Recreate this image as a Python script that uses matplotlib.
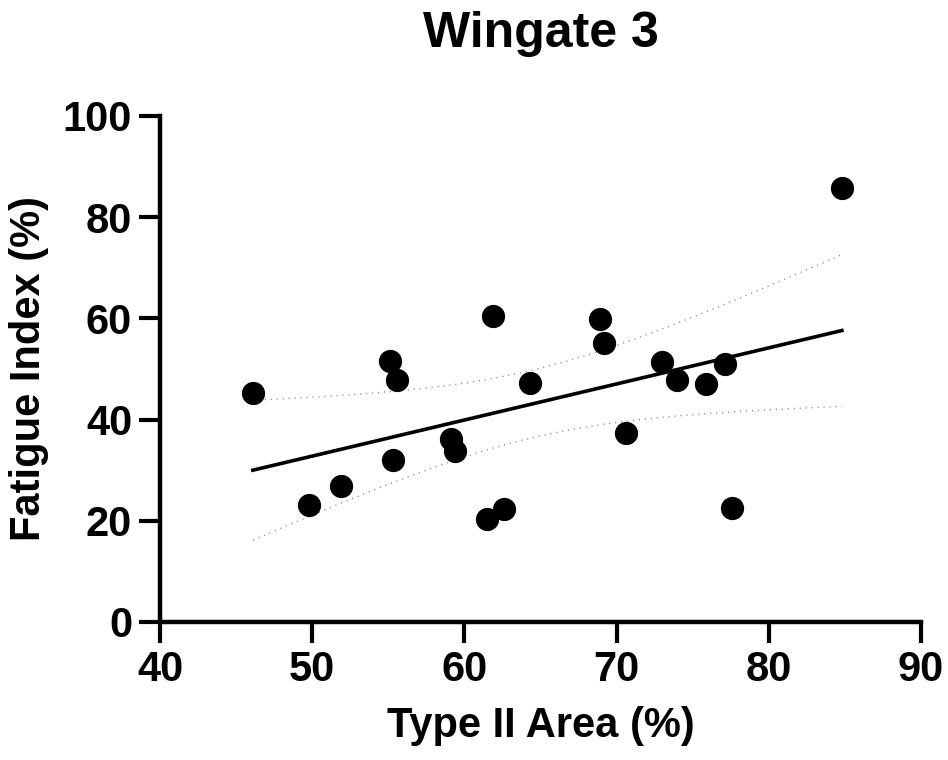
import numpy as np
import matplotlib
matplotlib.use("Agg")
import matplotlib.pyplot as plt

plt.rcParams['font.family'] = ['Liberation Sans', 'DejaVu Sans']
plt.rcParams['font.weight'] = 'bold'

# Type II area (%) vs fatigue index (%)
type2_area = [46.1, 49.8, 51.9, 55.1, 55.6, 55.3, 59.1, 59.4, 61.5, 61.9, 62.6,
              64.3, 68.9, 69.2, 70.6, 73.0, 74.0, 75.9, 77.1, 77.6, 84.8]
fatigue_index = [45.3, 23.1, 26.9, 51.6, 47.8, 32.0, 36.2, 33.8, 20.4, 60.5, 22.3,
                 47.2, 59.9, 55.1, 37.4, 51.4, 47.8, 47.0, 51.0, 22.5, 85.8]

x = np.array(type2_area)
y = np.array(fatigue_index)
n = len(x)

# linear fit + 95% confidence band
slope, intercept = np.polyfit(x, y, 1)
resid = y - (slope * x + intercept)
s = np.sqrt(np.sum(resid ** 2) / (n - 2))
t_crit = 2.093  # t(0.975, df=19)
xx = np.linspace(x.min(), x.max(), 200)
yy = slope * xx + intercept
se = s * np.sqrt(1.0 / n + (xx - x.mean()) ** 2 / np.sum((x - x.mean()) ** 2))

fig = plt.figure(figsize=(9.48, 7.6), dpi=100)
ax = fig.add_axes([0.1688, 0.1816, 0.8027, 0.6658])

ax.plot(xx, yy, color='black', lw=2.6, zorder=2)
ax.plot(xx, yy + t_crit * se, color='#888888', lw=1.0, ls=(0, (0.8, 3.5)), zorder=1)
ax.plot(xx, yy - t_crit * se, color='#888888', lw=1.0, ls=(0, (0.8, 3.5)), zorder=1)
ax.scatter(x, y, s=280, color='black', zorder=3, linewidths=0)

ax.set_xlim(40, 90)
ax.set_ylim(0, 100)
ax.set_xticks([40, 50, 60, 70, 80, 90])
ax.set_yticks([0, 20, 40, 60, 80, 100])

for side in ['top', 'right']:
    ax.spines[side].set_visible(False)
for side in ['left', 'bottom']:
    ax.spines[side].set_linewidth(3.2)
ax.tick_params(axis='both', width=3, length=15, labelsize=30, pad=5)
for lab in ax.get_xticklabels() + ax.get_yticklabels():
    lab.set_fontweight('bold')

ax.set_xlabel('Type II Area (%)', fontsize=30, fontweight='bold', labelpad=12)
ax.set_ylabel('Fatigue Index (%)', fontsize=30, fontweight='bold', labelpad=10)
ax.set_title('Wingate 3', fontsize=36, fontweight='bold', pad=50)

plt.savefig('out.png', dpi=100)
